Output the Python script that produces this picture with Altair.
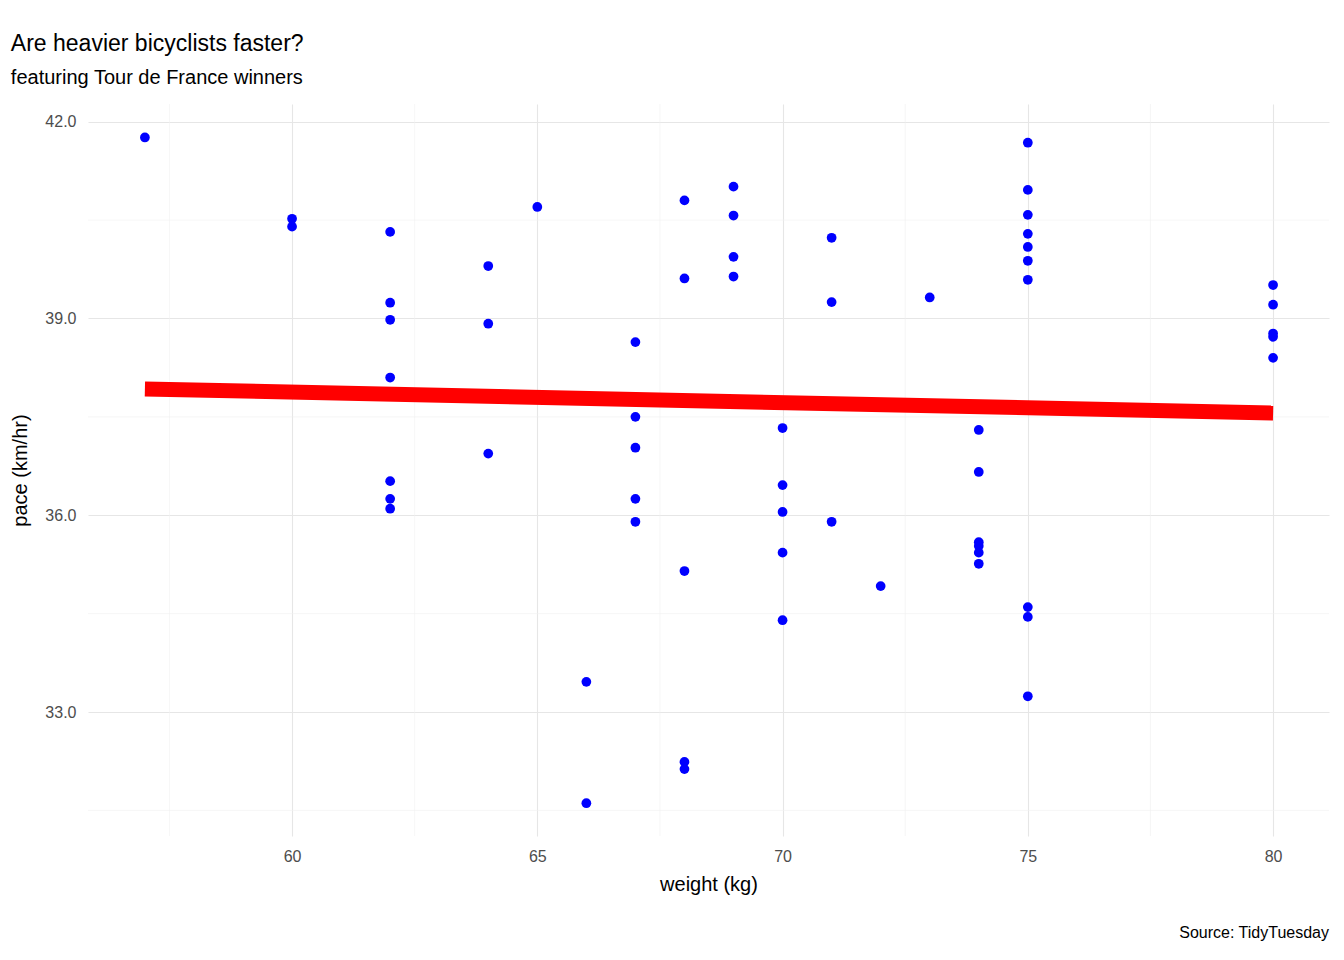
import altair as alt
import pandas as pd

weight = ([57] + [60] * 2 + [62] * 7 + [64] * 3 + [65] + [66] * 2 + [67] * 5 + [68] * 5
          + [69] * 4 + [70] * 5 + [71] * 3 + [72] + [73] + [74] * 6 + [75] * 10 + [80] * 5)
pace = [41.76,
        40.52, 40.40,
        40.32, 39.24, 38.98, 38.10, 36.52, 36.25, 36.10,
        39.80, 38.92, 36.94,
        40.70,
        33.46, 31.61,
        38.64, 37.50, 37.03, 36.25, 35.90,
        40.80, 39.61, 35.15, 32.24, 32.13,
        41.01, 40.57, 39.94, 39.64,
        37.33, 36.46, 36.05, 35.43, 34.40,
        40.23, 39.25, 35.90,
        34.92,
        39.32,
        37.30, 36.66, 35.59, 35.53, 35.43, 35.26,
        41.68, 40.96, 40.58, 40.29, 40.09, 39.88, 39.59, 34.60, 34.45, 33.24,
        39.51, 39.21, 38.77, 38.72, 38.40]
minor_x = [57.5, 62.5, 67.5, 72.5, 77.5]
minor_y = [31.5, 34.5, 37.5, 40.5]

df = pd.DataFrame({"weight": weight, "pace": pace})
W, H = 1241, 732
xs = alt.Scale(domain=[55.84, 81.14], nice=False, zero=False)
ys = alt.Scale(domain=[31.11, 42.27], nice=False, zero=False)

base = alt.Chart(df)
pts = base.mark_circle(size=95, color="blue", opacity=1).encode(
    x=alt.X("weight:Q", scale=xs, title="weight (kg)",
            axis=alt.Axis(values=[60, 65, 70, 75, 80])),
    y=alt.Y("pace:Q", scale=ys, title="pace (km/hr)",
            axis=alt.Axis(values=[33, 36, 39, 42])),
)
fit = base.transform_regression("weight", "pace").mark_line(
    color="red", strokeWidth=15
).encode(x=alt.X("weight:Q", scale=xs), y=alt.Y("pace:Q", scale=ys))

gx = alt.Chart(pd.DataFrame({"v": minor_x})).mark_rule(color="#f0f0f0", strokeWidth=0.6).encode(
    x=alt.X("v:Q", scale=xs))
gy = alt.Chart(pd.DataFrame({"v": minor_y})).mark_rule(color="#f0f0f0", strokeWidth=0.6).encode(
    y=alt.Y("v:Q", scale=ys))
cap = alt.Chart(pd.DataFrame({"t": ["Source: TidyTuesday"]})).mark_text(
    align="right", baseline="middle", fontSize=16, font="Liberation Sans", color="black"
).encode(text="t:N", x=alt.value(W), y=alt.value(H + 97))

chart = alt.layer(gx, gy, fit, pts, cap).properties(
    width=W, height=H,
    padding={"left": 80, "top": 96, "right": 7, "bottom": 116},
    autosize=alt.AutoSizeParams(type="none"),
    title=alt.Title("Are heavier bicyclists faster?", subtitle="featuring Tour de France winners",
                    anchor="start", fontSize=23, subtitleFontSize=20, fontWeight="normal",
                    font="Liberation Sans", subtitleFont="Liberation Sans",
                    color="black", subtitleColor="black", offset=16, subtitlePadding=12),
).configure_view(stroke=None).configure_axis(
    domain=False, ticks=False, gridColor="#e6e6e6", gridWidth=1.1,
    labelFont="Liberation Sans", titleFont="Liberation Sans",
    labelFontSize=16, labelColor="#4d4d4d", titleFontSize=20, titleColor="black",
    titleFontWeight="normal", labelPadding=12,
).configure_axisY(titlePadding=14).configure_axisX(titlePadding=10)

chart.save("out.html", embed_options={"renderer": "svg", "actions": False})
